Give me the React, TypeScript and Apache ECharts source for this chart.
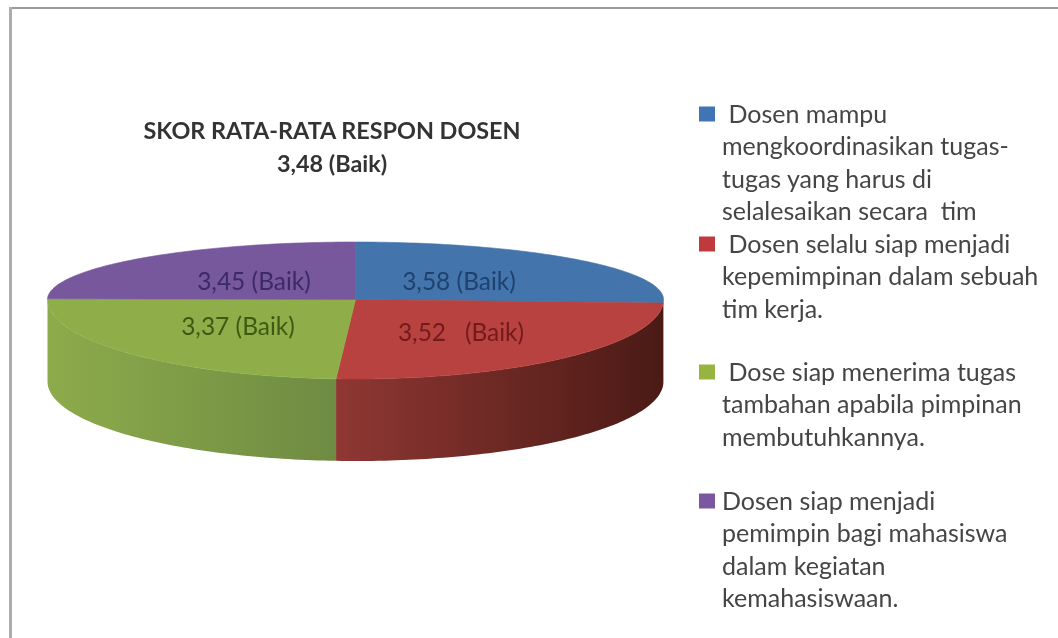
import React, { useEffect, useRef } from "react";
import * as echarts from "echarts";

const titleLines = ["SKOR RATA-RATA RESPON DOSEN", "3,48 (Baik)"];
const scores = [3.58, 3.52, 3.37, 3.45];
const sliceLabels = ["3,58 (Baik)", "3,52   (Baik)", "3,37 (Baik)", "3,45 (Baik)"];
const legendLines = [
  [" Dosen mampu", "mengkoordinasikan tugas-", "tugas yang harus di", "selalesaikan secara  tim"],
  [" Dosen selalu siap menjadi", "kepemimpinan dalam sebuah", "tim kerja."],
  [" Dose siap menerima tugas", "tambahan apabila pimpinan", "membutuhkannya."],
  ["Dosen siap menjadi", "pemimpin bagi mahasiswa", "dalam kegiatan", "kemahasiswaan."],
];
const topColors = ["#4374ab", "#b8423f", "#8fae49", "#77589d"];
const legendColors = ["#3f74b5", "#c0393c", "#95b540", "#7a57a0"];
const labelColors = ["#1d4270", "#741a1c", "#3e5a12", "#3c2a66"];
const sideStops = [
  ["#2f5480", "#2f5480"],
  ["#8f3733", "#4b1a15"],
  ["#8dab4a", "#6e8b43"],
  ["#553f72", "#553f72"],
];

// Pie projection on the page
const CX = 355.5;
const CY = 299.5;
const RX = 308;
const RY_BACK = 57.5;
const RY_FRONT = 79.5;
const DEPTH = 82;
const LABEL_POS = [
  [459, 280],
  [461, 331],
  [238, 325],
  [254, 280],
];
const LEGEND_TOP = [114, 244, 372, 501];
const LEGEND_LINE = 32.3;
const FONT = "Lato, Carlito, sans-serif";

function project(theta: number): [number, number] {
  const c = Math.cos(theta);
  return [CX + RX * Math.sin(theta), CY - (c > 0 ? RY_BACK : RY_FRONT) * c];
}

function arcPoints(a: number, b: number, dy = 0) {
  const n = Math.max(2, Math.ceil(((b - a) / Math.PI) * 160));
  const pts: number[][] = [];
  for (let i = 0; i <= n; i++) {
    const [x, y] = project(a + ((b - a) * i) / n);
    pts.push([x, y + dy]);
  }
  return pts;
}

export default function App() {
  const ref = useRef<HTMLDivElement>(null);
  useEffect(() => {
    const chart = echarts.init(ref.current!, undefined, { renderer: "svg" });
    const total = scores.reduce((s, v) => s + v, 0);

    const renderItem = (params: any, api: any) => {
      const i = params.dataIndex;
      const before = scores.slice(0, i).reduce((s, v) => s + v, 0);
      const a = (before / total) * 2 * Math.PI;
      const b = a + (api.value(0) / total) * 2 * Math.PI;
      const children: any[] = [];
      const sa = Math.max(a, Math.PI / 2);
      const sb = Math.min(b, (3 * Math.PI) / 2);
      if (sb > sa) {
        const top = arcPoints(sa, sb);
        const bottom = arcPoints(sa, sb, DEPTH).reverse();
        const fill = new echarts.graphic.LinearGradient(0, 0, 1, 0, [
          { offset: 0, color: sideStops[i][0] },
          { offset: 1, color: sideStops[i][1] },
        ]);
        children.push({
          type: "polygon",
          shape: { points: top.concat(bottom) },
          style: { fill },
        });
      }
      children.push({
        type: "polygon",
        shape: { points: [[CX, CY], ...arcPoints(a, b)] },
        style: { fill: topColors[i], stroke: topColors[i], lineWidth: 0.6 },
      });
      children.push({
        type: "text",
        z2: 10,
        style: {
          x: LABEL_POS[i][0],
          y: LABEL_POS[i][1],
          text: sliceLabels[i],
          fill: labelColors[i],
          font: `24.5px ${FONT}`,
          align: "center",
          verticalAlign: "middle",
        },
      });
      return { type: "group", children };
    };

    const graphic: any[] = [
      { type: "rect", shape: { x: 9, y: 7, width: 1049, height: 2 }, style: { fill: "#9a9a9a" }, silent: true },
      { type: "rect", shape: { x: 9, y: 7, width: 3, height: 631 }, style: { fill: "#adadad" }, silent: true },
    ];
    legendLines.forEach((lines, i) => {
      graphic.push({
        type: "rect",
        shape: { x: 699, y: LEGEND_TOP[i] - 7.5, width: 16, height: 15 },
        style: { fill: legendColors[i] },
      });
      lines.forEach((line, j) => {
        graphic.push({
          type: "text",
          style: {
            x: 722,
            y: LEGEND_TOP[i] - 1 + j * LEGEND_LINE,
            text: line.replace(/^ /, "\u00a0"),
            fill: "#454545",
            font: `25px ${FONT}`,
            verticalAlign: "middle",
          },
        });
      });
    });

    chart.setOption({
      animation: false,
      backgroundColor: "#ffffff",
      title: {
        text: titleLines.join("\n"),
        left: 327,
        top: 108,
        textAlign: "center",
        textStyle: {
          fontFamily: FONT,
          fontSize: 23.4,
          fontWeight: "bold",
          color: "#333333",
          lineHeight: 33,
        },
      },
      graphic,
      series: [
        {
          type: "custom",
          coordinateSystem: "none",
          data: scores.map((v) => [v]),
          renderItem,
          silent: true,
        },
      ],
    });
    return () => chart.dispose();
  }, []);
  return (
    <div
      ref={ref}
      style={{ position: "fixed", left: 0, top: 0, width: 1058, height: 638, filter: "blur(0.6px)" }}
    />
  );
}
